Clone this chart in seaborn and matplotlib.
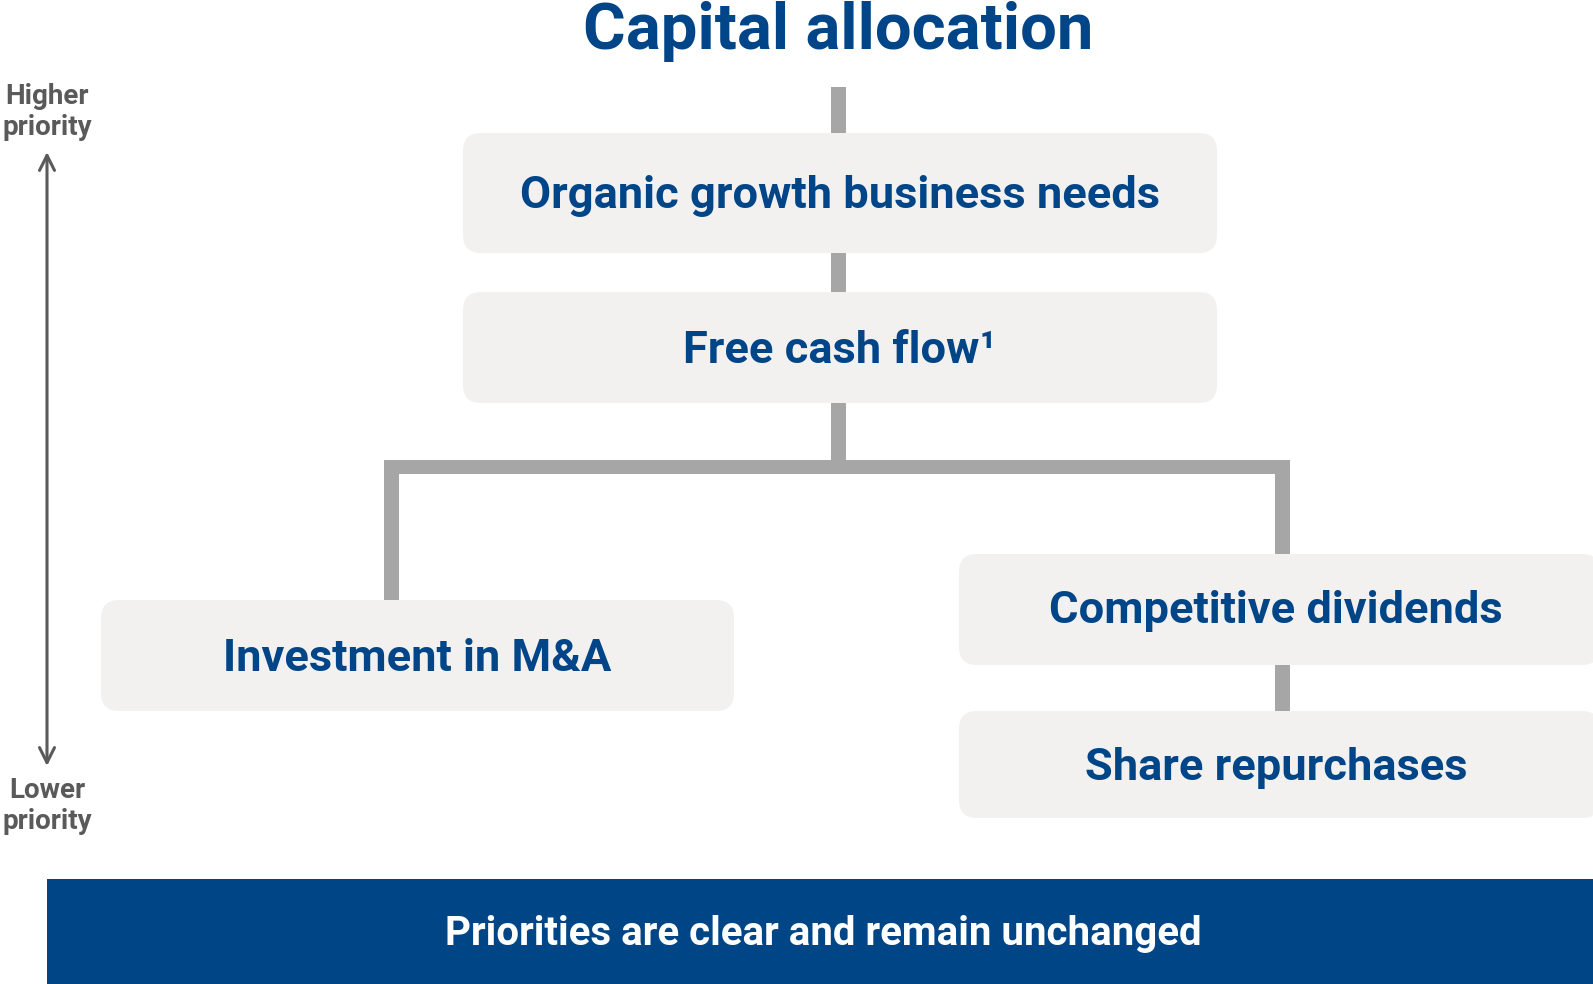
import matplotlib
matplotlib.use("Agg")
import matplotlib.pyplot as plt
import seaborn as sns
from matplotlib.patches import FancyBboxPatch, Rectangle

sns.set_theme(style="white")
plt.rcParams["font.family"] = ["Roboto", "DejaVu Sans"]

# labels
title = "Capital allocation"
box_labels = ["Organic growth business needs", "Free cash flow\u00b9",
              "Investment in M&A", "Competitive dividends", "Share repurchases"]
banner_label = "Priorities are clear and remain unchanged"
axis_labels = ["Higher\npriority", "Lower\npriority"]

# layout in pixels (x0, y0, x1, y1)
boxes = [(463, 133, 1217, 253), (463, 292, 1217, 403),
         (101, 600, 734, 711), (959, 554, 1600, 665), (959, 711, 1600, 818)]
text_pos = [(840, 196), (840, 351), (417, 659), (1276, 611), (1276, 768)]

BLUE = "#004587"
BOXC = "#f2f1f0"
LINE = "#a6a6a6"
GREY = "#5a5a5a"

fig = plt.figure(figsize=(15.93, 9.84), dpi=100)
ax = fig.add_axes([0, 0, 1, 1])
ax.set_xlim(0, 1593)
ax.set_ylim(984, 0)
ax.axis("off")

# connectors
lw = 15
def vbar(x, y0, y1):
    ax.add_patch(Rectangle((x - lw / 2, y0), lw, y1 - y0, color=LINE, lw=0, zorder=1))
def hbar(y, x0, x1):
    ax.add_patch(Rectangle((x0, y - 7), x1 - x0, 14, color=LINE, lw=0, zorder=1))

vbar(838, 87, 140)
vbar(838, 245, 300)
vbar(838, 395, 470)
hbar(467, 384, 1289)
vbar(391, 460, 605)
vbar(1282, 460, 560)
vbar(1282, 660, 715)

for (x0, y0, x1, y1), lab, (tx, ty) in zip(boxes, box_labels, text_pos):
    ax.add_patch(FancyBboxPatch((x0, y0), x1 - x0, y1 - y0,
                                boxstyle="round,pad=0,rounding_size=18",
                                fc=BOXC, ec="none", zorder=2))
    ax.text(tx, ty, lab, ha="center", va="center", color=BLUE,
            fontsize=32.6, fontweight="bold", zorder=3)

ax.text(838, 31, title, ha="center", va="center", color=BLUE,
        fontsize=47, fontweight="bold")

# priority arrow
ax.annotate("", xy=(47, 152), xytext=(47, 766),
            arrowprops=dict(arrowstyle="<->,head_length=0.9,head_width=0.45",
                            color=GREY, lw=2.2, shrinkA=0, shrinkB=0))
ax.text(47, 112, axis_labels[0], ha="center", va="center", color=GREY,
        fontsize=20, fontweight="bold", linespacing=1.17)
ax.text(47, 806, axis_labels[1], ha="center", va="center", color=GREY,
        fontsize=20, fontweight="bold", linespacing=1.17)

# banner
ax.add_patch(Rectangle((47, 879), 1593 - 47, 110, color="#004687", lw=0))
ax.text(823, 934, banner_label, ha="center", va="center", color="white",
        fontsize=29, fontweight="bold")

fig.savefig("out.png", dpi=100)
